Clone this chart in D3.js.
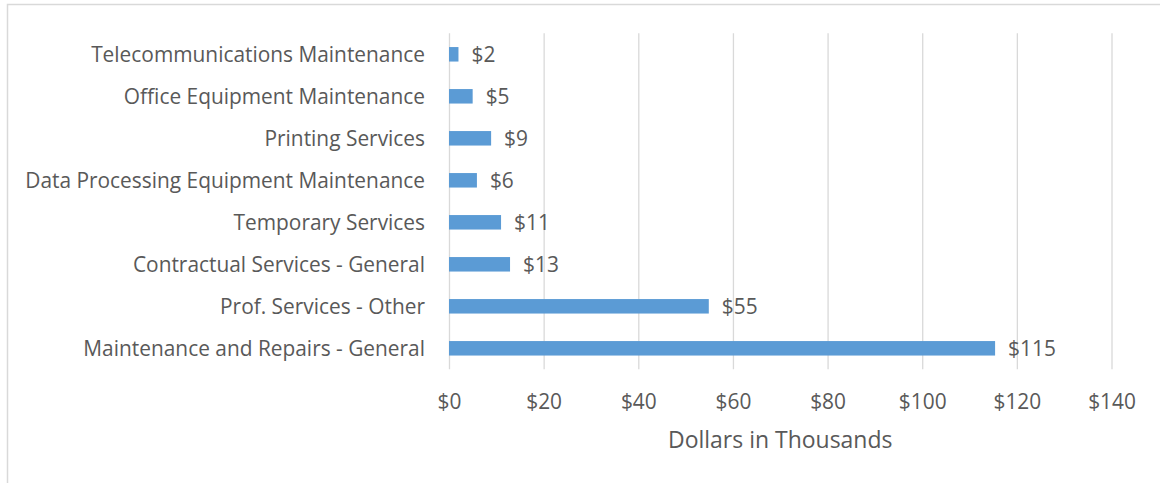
<!DOCTYPE html>
<html>
<head>
<meta charset="utf-8">
<script src="https://cdn.jsdelivr.net/npm/d3@7"></script>
<style>
  body { margin: 0; background: #fff; }
  svg { display: block; }
  text { font-family: "Open Sans", sans-serif; fill: #595959; }
</style>
</head>
<body>
<svg></svg>
<script>
const categories = [
  'Telecommunications Maintenance',
  'Office Equipment Maintenance',
  'Printing Services',
  'Data Processing Equipment Maintenance',
  'Temporary Services',
  'Contractual Services - General',
  'Prof. Services - Other',
  'Maintenance and Repairs - General'
];
const values = [2, 5, 8.9, 5.9, 11, 12.9, 54.9, 115.4];
const tickValues = [0, 20, 40, 60, 80, 100, 120, 140];
const axisTitle = 'Dollars in Thousands';

const [width, height] = [1160, 483];
const [x0, x1] = [449, 1111.5];
const [y0, y1] = [33.3, 369.3];

const svg = d3.select('svg')
  .attr('width', width)
  .attr('height', height);

// chart frame, cropped at right and bottom
svg.append('rect')
  .attr('x', 7.5)
  .attr('y', 4.5)
  .attr('width', 1300)
  .attr('height', 700)
  .attr('fill', 'none')
  .attr('stroke', '#d9d9d9')
  .attr('stroke-width', 1.5);

// fit font size so the longest label is as wide as in the original
const longest = categories.reduce((a, b) => a.length > b.length ? a : b);
const probe = svg.append('text').attr('font-size', 20).text(longest);
const fs = 20 * 400 / probe.node().getComputedTextLength();
probe.remove();

const x = d3.scaleLinear()
  .domain([0, 140])
  .range([x0, x1]);
const y = d3.scaleBand()
  .domain(categories)
  .range([y0, y1])
  .paddingInner(0.655)
  .paddingOuter(0.3275);

const xAxis = svg.append('g')
  .attr('transform', `translate(0, ${y1})`)
  .call(d3.axisBottom(x)
    .tickValues(tickValues)
    .tickSizeInner(-(y1 - y0))
    .tickSizeOuter(0)
    .tickFormat(d => '$' + d));
xAxis.select('.domain').remove();
xAxis.selectAll('line')
  .attr('stroke', '#d9d9d9')
  .attr('stroke-width', 1.3);
xAxis.selectAll('text')
  .attr('y', 32)
  .attr('dy', '0.35em')
  .attr('font-size', fs)
  .attr('fill', '#595959');

const yAxis = svg.append('g')
  .attr('transform', `translate(${x0}, 0)`)
  .call(d3.axisLeft(y).tickSize(0).tickPadding(24));
yAxis.select('.domain').remove();
yAxis.selectAll('text')
  .attr('font-size', fs)
  .attr('dy', '0.35em')
  .attr('fill', '#595959');

svg.append('g')
  .selectAll('rect')
  .data(values)
  .join('rect')
  .attr('x', x(0))
  .attr('y', (d, i) => y(categories[i]))
  .attr('width', d => x(d) - x(0))
  .attr('height', y.bandwidth())
  .attr('fill', '#5b9bd5');

svg.append('g')
  .selectAll('text')
  .data(values)
  .join('text')
  .attr('x', d => x(d) + 13)
  .attr('y', (d, i) => y(categories[i]) + y.bandwidth() / 2)
  .attr('dy', '0.35em')
  .attr('font-size', fs)
  .text(d => '$' + Math.round(d));

svg.append('text')
  .attr('x', (x0 + x1) / 2)
  .attr('y', 440)
  .attr('dy', '0.35em')
  .attr('text-anchor', 'middle')
  .attr('font-size', fs * 1.1)
  .text(axisTitle);
</script>
</body>
</html>
